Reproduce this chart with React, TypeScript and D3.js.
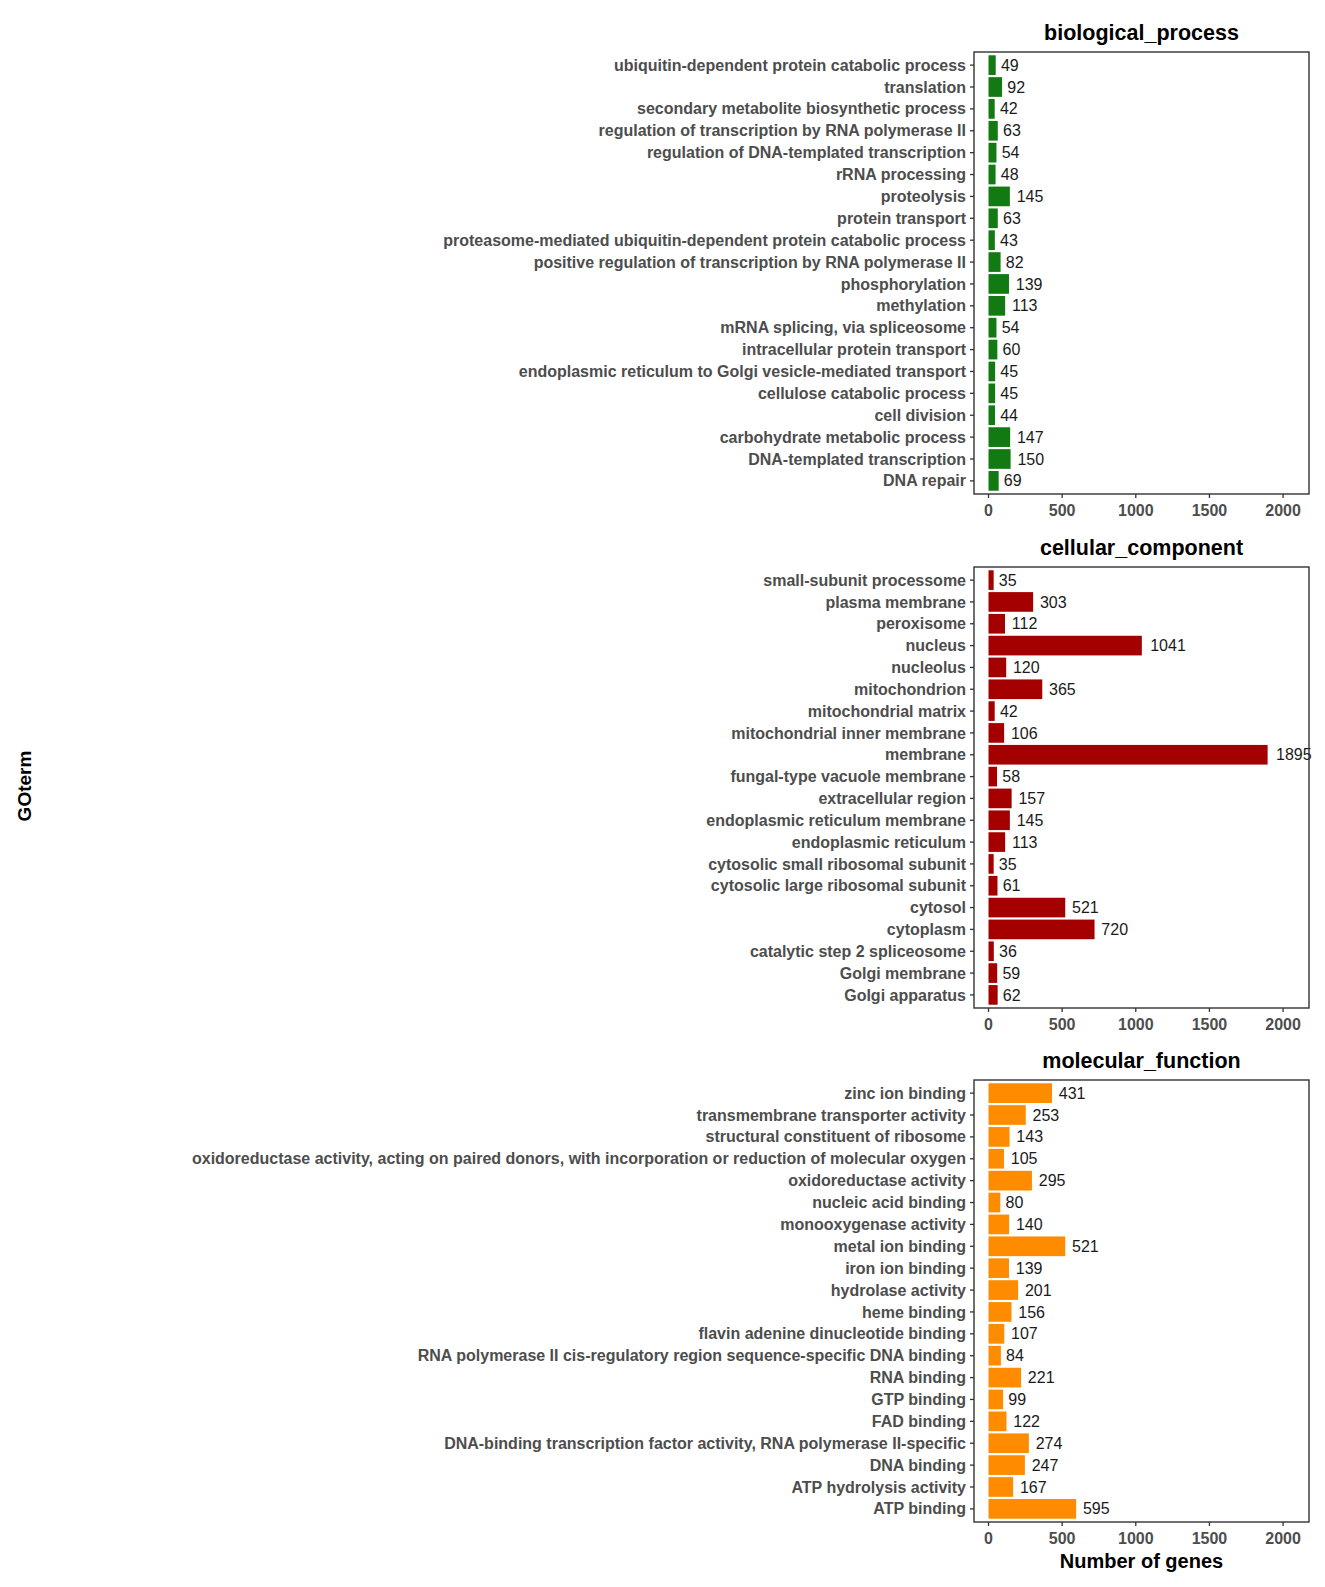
import React from "react";
import * as d3 from "d3";

// biological_process, top to bottom
const bpTerms = [
  "ubiquitin-dependent protein catabolic process",
  "translation",
  "secondary metabolite biosynthetic process",
  "regulation of transcription by RNA polymerase II",
  "regulation of DNA-templated transcription",
  "rRNA processing",
  "proteolysis",
  "protein transport",
  "proteasome-mediated ubiquitin-dependent protein catabolic process",
  "positive regulation of transcription by RNA polymerase II",
  "phosphorylation",
  "methylation",
  "mRNA splicing, via spliceosome",
  "intracellular protein transport",
  "endoplasmic reticulum to Golgi vesicle-mediated transport",
  "cellulose catabolic process",
  "cell division",
  "carbohydrate metabolic process",
  "DNA-templated transcription",
  "DNA repair",
];
const bpCounts = [49, 92, 42, 63, 54, 48, 145, 63, 43, 82, 139, 113, 54, 60, 45, 45, 44, 147, 150, 69];

// cellular_component
const ccTerms = [
  "small-subunit processome",
  "plasma membrane",
  "peroxisome",
  "nucleus",
  "nucleolus",
  "mitochondrion",
  "mitochondrial matrix",
  "mitochondrial inner membrane",
  "membrane",
  "fungal-type vacuole membrane",
  "extracellular region",
  "endoplasmic reticulum membrane",
  "endoplasmic reticulum",
  "cytosolic small ribosomal subunit",
  "cytosolic large ribosomal subunit",
  "cytosol",
  "cytoplasm",
  "catalytic step 2 spliceosome",
  "Golgi membrane",
  "Golgi apparatus",
];
const ccCounts = [35, 303, 112, 1041, 120, 365, 42, 106, 1895, 58, 157, 145, 113, 35, 61, 521, 720, 36, 59, 62];

// molecular_function
const mfTerms = [
  "zinc ion binding",
  "transmembrane transporter activity",
  "structural constituent of ribosome",
  "oxidoreductase activity, acting on paired donors, with incorporation or reduction of molecular oxygen",
  "oxidoreductase activity",
  "nucleic acid binding",
  "monooxygenase activity",
  "metal ion binding",
  "iron ion binding",
  "hydrolase activity",
  "heme binding",
  "flavin adenine dinucleotide binding",
  "RNA polymerase II cis-regulatory region sequence-specific DNA binding",
  "RNA binding",
  "GTP binding",
  "FAD binding",
  "DNA-binding transcription factor activity, RNA polymerase II-specific",
  "DNA binding",
  "ATP hydrolysis activity",
  "ATP binding",
];
const mfCounts = [431, 253, 143, 105, 295, 80, 140, 521, 139, 201, 156, 107, 84, 221, 99, 122, 274, 247, 167, 595];

const xTicks = [0, 500, 1000, 1500, 2000];

const W = 1325;
const H = 1587;
const FONT = "'Liberation Sans', Arial, sans-serif";

const panelLeft = 974;
const panelRight = 1309;

const panels = [
  { name: "biological_process", terms: bpTerms, counts: bpCounts, color: "#137a13", top: 52, bottom: 494 },
  { name: "cellular_component", terms: ccTerms, counts: ccCounts, color: "#a50000", top: 567, bottom: 1008 },
  { name: "molecular_function", terms: mfTerms, counts: mfCounts, color: "#ff8c00", top: 1080, bottom: 1522 },
];

const x = d3.scaleLinear().domain([-98.5, 2176]).range([panelLeft, panelRight]);

function Panel({ p }: { p: (typeof panels)[number] }) {
  // ggplot-like discrete expansion: 0.6 step from edge to first band centre
  const y = d3
    .scaleBand()
    .domain(p.terms)
    .range([p.top, p.bottom])
    .paddingInner(0.1)
    .paddingOuter(0.15);
  return (
    <g>
      <text
        x={(panelLeft + panelRight) / 2}
        y={p.top - 12}
        textAnchor="middle"
        fontSize={21.5}
        fontWeight="bold"
        fill="#000"
      >
        {p.name}
      </text>
      {p.terms.map((t, i) => {
        const yc = (y(t) as number) + y.bandwidth() / 2;
        const v = p.counts[i];
        const label = String(v);
        return (
          <g key={t}>
            <rect
              x={x(0)}
              y={y(t)}
              width={x(v) - x(0)}
              height={y.bandwidth()}
              fill={p.color}
            />
            <text
              x={x(v) + 2 + label.length * 1.6}
              y={yc + 5.6}
              fontSize={16}
              fill="#1a1a1a"
            >
              {label}
            </text>
            <line x1={panelLeft - 4} x2={panelLeft} y1={yc} y2={yc} stroke="#333" strokeWidth={1.3} />
            <text
              x={panelLeft - 8}
              y={yc + 5.6}
              textAnchor="end"
              fontSize={16}
              fontWeight="bold"
              fill="#4d4d4d"
            >
              {t}
            </text>
          </g>
        );
      })}
      <rect
        x={panelLeft}
        y={p.top}
        width={panelRight - panelLeft}
        height={p.bottom - p.top}
        fill="none"
        stroke="#333"
        strokeWidth={1.4}
      />
      {xTicks.map((tk) => (
        <g key={tk}>
          <line x1={x(tk)} x2={x(tk)} y1={p.bottom} y2={p.bottom + 4} stroke="#333" strokeWidth={1.3} />
          <text
            x={x(tk)}
            y={p.bottom + 21.5}
            textAnchor="middle"
            fontSize={16}
            fontWeight="bold"
            fill="#4d4d4d"
          >
            {tk}
          </text>
        </g>
      ))}
    </g>
  );
}

export default function App() {
  return (
    <svg
      width={W}
      height={H}
      style={{ position: "absolute", left: 0, top: 0, background: "#fff" }}
      fontFamily={FONT}
    >
      <rect width={W} height={H} fill="#fff" />
      {panels.map((p) => (
        <Panel key={p.name} p={p} />
      ))}
      <text
        transform={`translate(31, 786) rotate(-90)`}
        textAnchor="middle"
        fontSize={19}
        fontWeight="bold"
        fill="#000"
      >
        GOterm
      </text>
      <text
        x={(panelLeft + panelRight) / 2}
        y={1568}
        textAnchor="middle"
        fontSize={20}
        fontWeight="bold"
        fill="#000"
      >
        Number of genes
      </text>
    </svg>
  );
}
